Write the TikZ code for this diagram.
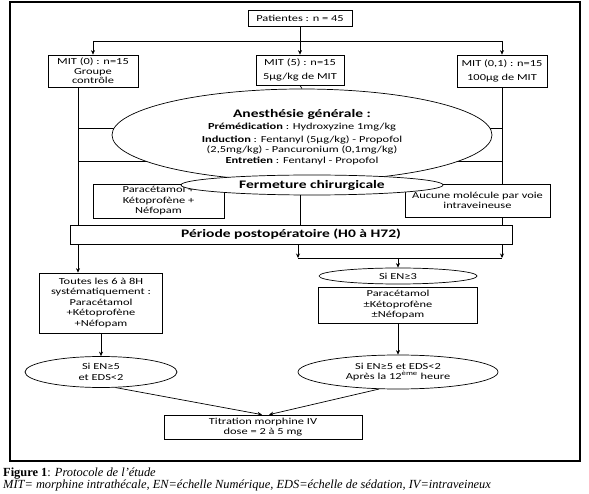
\documentclass[tikz,border=0pt]{standalone}
\usepackage{fontspec}
\setmainfont{Carlito}[FakeStretch=1.35]
\newfontfamily\capfont{Liberation Serif}
\usetikzlibrary{arrows.meta,shapes.geometric}
\pgfdeclarelayer{bg}
\pgfsetlayers{bg,main}
\begin{document}
\begin{tikzpicture}[x=1pt,y=-1pt,
  every node/.style={font=\fontsize{9.2}{10.5}\selectfont, text=black, inner sep=0pt, align=center},
  box/.style={draw, line width=0.7pt, fill=white},
  ell/.style={draw, ellipse, line width=0.7pt, fill=white},
  conn/.style={line width=0.7pt},
  arr/.style={line width=0.7pt, -{Stealth[length=4.5pt,width=4pt]}},
  head/.style={font=\fontsize{11.5}{13}\selectfont\bfseries},
  capstyle/.style={anchor=base west, font=\capfont\fontsize{12.4}{12}\selectfont}
]
\useasboundingbox (0,0) rectangle (589,494);
\draw[line width=1.2pt] (10,2) rectangle (580,461);

% nodes
\node[box, minimum width=104pt, minimum height=16pt] (pat) at (300,18) {Patientes : n = 45};
\node[box, minimum width=90pt, minimum height=32pt] (mit0) at (93,71) {MIT (0) : n=15\\[-1pt]Groupe\\[-1pt]contrôle};
\node[box, minimum width=88pt, minimum height=30pt] (mit5) at (300,70) {MIT (5) : n=15\\[3pt]5µg/kg de MIT};
\node[box, minimum width=90pt, minimum height=32pt] (mit01) at (502,71) {MIT (0,1) : n=15\\[3pt]100µg de MIT};

\node[box, minimum width=442pt, minimum height=19pt, head] (post) at (291,234.5) {Période postopératoire (H0 à H72)};
\node[box, minimum width=131pt, minimum height=34pt] (para) at (158.5,201) {Paracétamol +\\Kétoprofène +\\Néfopam};
\node[box, minimum width=145pt, minimum height=33pt] (auc) at (477.5,200.5) {Aucune molécule par voie\\intraveineuse};

\node[ell, minimum width=380pt, minimum height=92pt] (bigell) at (302,135) {};
\node (bigtxt) at (302,137) {{\fontsize{11.5}{13}\selectfont\bfseries Anesthésie générale :}\\[1.5pt]\textbf{Prémédication} : Hydroxyzine 1mg/kg\\[2pt]\textbf{Induction} : Fentanyl (5µg/kg) - Propofol\\(2,5mg/kg) - Pancuronium (0,1mg/kg)\\\textbf{Entretien} : Fentanyl - Propofol};
\node[ell, minimum width=262pt, minimum height=20pt, head] (ferm) at (312,185) {Fermeture chirurgicale};

\node[box, minimum width=123pt, minimum height=60pt] (toutes) at (101,303) {Toutes les 6 à 8H\\systématiquement :\\Paracétamol\\+Kétoprofène\\+Néfopam};
\node[ell, minimum width=158pt, minimum height=16pt] (si3) at (398,276) {Si EN≥3};
\node[box, minimum width=159pt, minimum height=36pt] (parapm) at (398,305) {Paracétamol\\±Kétoprofène\\±Néfopam};
\node[ell, minimum width=200pt, minimum height=34pt] (si5b) at (398,372) {Si EN≥5 et EDS<2\\Après la 12\textsuperscript{ème} heure};
\node[ell, minimum width=152pt, minimum height=31pt] (si5a) at (101,372) {Si EN≥5\\et EDS<2};
\node[box, minimum width=198pt, minimum height=24pt] (titr) at (263,427) {Titration morphine IV\\dose = 2 à 5 mg};

\node[capstyle] (cap1) at (3,476) {\textbf{Figure 1}: \textit{Protocole de l’étude}};
\node[capstyle] (cap2) at (3,488) {\textit{MIT= morphine intrathécale, EN=échelle Numérique, EDS=échelle de sédation, IV=intraveineux}};

% connectors
\coordinate (lx) at (78,0);
\coordinate (mx) at (300,0);
\coordinate (hl) at (93,41);
\coordinate (hr) at (502,41);
\coordinate (a1) at (78,128);
\coordinate (a2) at (502,128);
\coordinate (b1) at (78,161);
\coordinate (b2) at (502,161);
\coordinate (j1) at (298,258);
\coordinate (j2) at (502,258);
\begin{pgfonlayer}{bg}
\draw[conn] (hl) -- (hr);
\draw[arr] (hl) -- (mit0.north);
\draw[arr] (hr) -- (mit01.north);
\draw[arr] (pat.south) -- (mit5.north);
\draw[conn] (mit5.south) -- (bigell.north);
\draw[conn] (lx |- mit0.south) -- (lx |- post.north);
\draw[conn] (mit01.south) -- (mit01.south |- post.north);
\draw[conn] (a1) -- (a2);
\draw[conn] (b1) -- (b2);
\draw[conn] (mx |- ferm.center) -- (mx |- post.north);
\draw[arr] (lx |- post.south) -- (lx |- toutes.north);
\draw[arr] (j1 |- post.south) -- (j1);
\draw[arr] (j2 |- post.south) -- (j2);
\draw[conn] (j1) -- (j2);
\draw[arr] (j1 -| si3.north) -- (si3.north);
\draw[arr] (toutes.south) -- (si5a.north);
\draw[arr] (parapm.south) -- (si5b.north);
\draw[arr] (si5a.-47) -- ([xshift=-1pt]titr.north);
\draw[arr] (si5b.-138) -- ([xshift=6pt]titr.north);
\end{pgfonlayer}
\end{tikzpicture}
\end{document}
